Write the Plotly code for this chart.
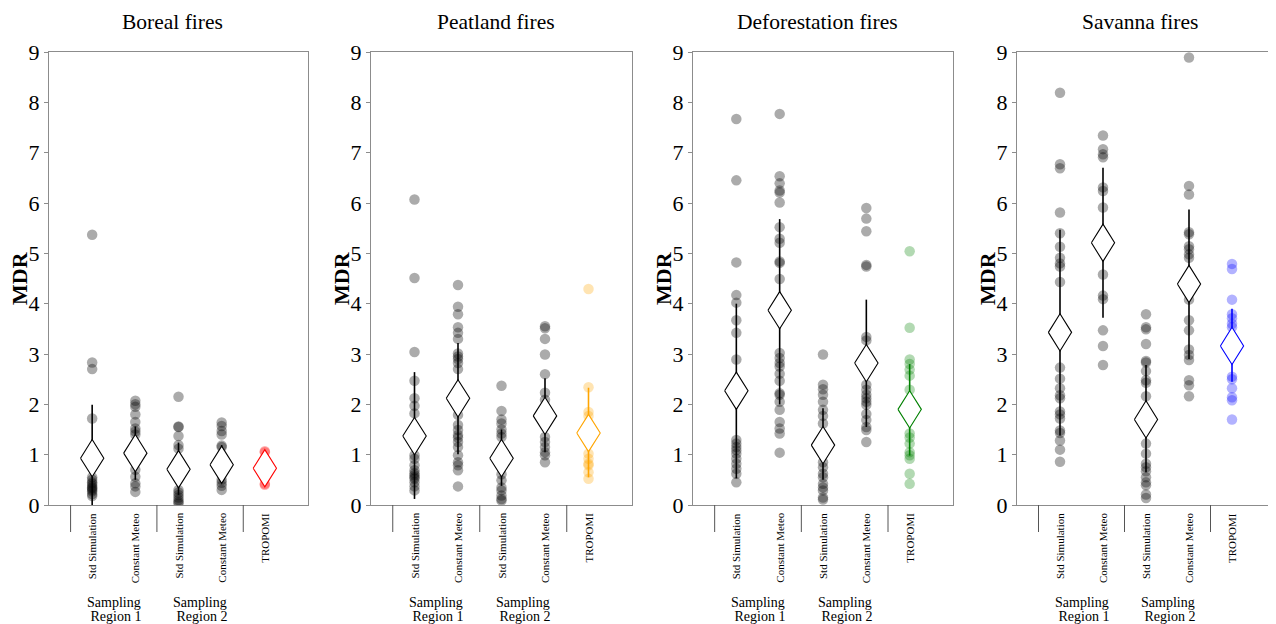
import plotly.graph_objects as go

# ---------------- data ----------------
panel_titles = ["Boreal fires", "Peatland fires", "Deforestation fires", "Savanna fires"]
categories = ["Std Simulation", "Constant Meteo", "Std Simulation", "Constant Meteo", "TROPOMI"]
group_labels = ["Region 1", "Region 2"]
group_top = "Sampling"

tropomi_point_colors = ["rgba(255,0,0,0.3)", "rgba(255,165,0,0.3)", "rgba(0,128,0,0.3)", "rgba(0,0,255,0.3)"]
tropomi_line_colors = ["rgb(255,0,0)", "rgb(255,165,0)", "rgb(0,128,0)", "rgb(0,0,255)"]

# Boreal
boreal_std_r1 = [5.37, 2.83, 2.70, 1.72, 0.55, 0.50, 0.45, 0.42, 0.38, 0.35, 0.33, 0.30, 0.27, 0.22, 0.18]
boreal_const_r1 = [2.07, 2.00, 1.95, 1.80, 1.65, 1.52, 1.46, 1.40, 0.70, 0.56, 0.43, 0.37, 0.26]
boreal_std_r2 = [2.15, 1.56, 1.55, 1.37, 1.19, 1.12, 0.30, 0.25, 0.20, 0.15, 0.10, 0.06, 0.03]
boreal_const_r2 = [1.64, 1.57, 1.47, 1.40, 1.18, 1.15, 0.50, 0.44, 0.38, 0.30]
boreal_tropomi = [1.07, 1.05, 0.42, 0.40]
boreal_mean = [0.93, 1.03, 0.71, 0.80, 0.73]
boreal_lo = [0.00, 0.50, 0.20, 0.50, 0.45]
boreal_hi = [1.99, 1.56, 1.24, 1.19, 1.02]

# Peatland
peat_std_r1 = [6.07, 4.51, 3.04, 2.47, 2.12, 1.97, 1.82, 0.99, 0.92, 0.79, 0.69, 0.63, 0.59, 0.55, 0.52, 0.45, 0.37, 0.29]
peat_const_r1 = [4.37, 3.94, 3.79, 3.53, 3.42, 3.30, 3.01, 2.95, 2.90, 2.82, 2.70, 1.79, 1.59, 1.49, 1.39, 1.34,
                 1.25, 1.15, 0.99, 0.85, 0.79, 0.69, 0.37]
peat_std_r2 = [2.37, 1.87, 1.70, 1.62, 1.50, 1.42, 1.35, 0.61, 0.49, 0.35, 0.29, 0.19, 0.12, 0.09]
peat_const_r2 = [3.55, 3.51, 3.30, 2.99, 2.60, 2.23, 2.09, 1.35, 1.25, 1.15, 1.05, 0.99, 0.85]
peat_tropomi = [4.29, 2.34, 1.85, 1.77, 1.02, 0.92, 0.82, 0.79, 0.65, 0.52]
peat_mean = [1.37, 2.12, 0.93, 1.77, 1.43]
peat_lo = [0.12, 1.01, 0.38, 1.05, 0.55]
peat_hi = [2.64, 3.22, 1.50, 2.52, 2.33]

# Deforestation
defo_std_r1 = [7.67, 6.45, 4.82, 4.17, 4.02, 3.67, 3.42, 2.89, 1.29, 1.22, 1.15, 1.09, 1.02, 0.92, 0.82, 0.72, 0.62, 0.45]
defo_const_r1 = [7.77, 6.53, 6.39, 6.25, 6.21, 6.01, 5.52, 5.29, 5.21, 4.84, 4.81, 4.49, 3.02, 2.92, 2.82, 2.75,
                 2.61, 2.47, 2.22, 2.19, 2.05, 1.89, 1.65, 1.52, 1.42, 1.04]
defo_std_r2 = [2.99, 2.39, 2.30, 2.19, 2.05, 1.89, 1.77, 1.62, 0.85, 0.75, 0.62, 0.55, 0.42, 0.35, 0.29, 0.15, 0.11]
defo_const_r2 = [5.90, 5.69, 5.44, 4.77, 4.74, 3.34, 3.27, 2.39, 2.29, 2.19, 2.12, 2.05, 1.99, 1.81, 1.69, 1.55,
                 1.49, 1.25]
defo_tropomi = [5.04, 3.52, 2.89, 2.80, 2.69, 2.57, 2.29, 1.42, 1.34, 1.22, 1.05, 0.99, 0.92, 0.62, 0.42]
defo_mean = [2.27, 3.87, 1.19, 2.82, 1.90]
defo_lo = [0.53, 2.00, 0.50, 1.55, 0.98]
defo_hi = [4.00, 5.68, 1.92, 4.08, 2.80]

# Savanna
sav_std_r1 = [8.19, 6.77, 6.69, 5.81, 5.40, 5.13, 4.91, 4.80, 4.74, 4.43, 2.73, 2.51, 2.32, 2.18, 2.12, 1.86,
              1.80, 1.72, 1.48, 1.43, 1.28, 1.10, 0.86]
sav_const_r1 = [7.34, 7.07, 6.97, 6.91, 6.31, 6.24, 5.91, 4.58, 4.16, 4.09, 3.47, 3.16, 2.78]
sav_std_r2 = [3.79, 3.53, 3.49, 3.20, 2.86, 2.83, 2.66, 2.48, 2.43, 2.16, 1.22, 1.02, 0.82, 0.75, 0.67, 0.55,
              0.45, 0.39, 0.21, 0.14]
sav_const_r2 = [8.89, 6.34, 6.17, 5.42, 5.38, 5.14, 5.08, 4.98, 4.91, 4.08, 3.67, 3.47, 3.09, 2.98, 2.88, 2.48,
                2.38, 2.16]
sav_tropomi = [4.79, 4.69, 4.08, 3.79, 3.71, 3.60, 3.53, 2.55, 2.50, 2.32, 2.14, 2.08, 1.70]
sav_mean = [3.43, 5.21, 1.70, 4.39, 3.16]
sav_lo = [1.38, 3.72, 0.65, 2.90, 2.45]
sav_hi = [5.47, 6.70, 2.78, 5.87, 3.90]

y_ticks = [0, 1, 2, 3, 4, 5, 6, 7, 8, 9]

panels = [
    ([boreal_std_r1, boreal_const_r1, boreal_std_r2, boreal_const_r2, boreal_tropomi], boreal_mean, boreal_lo, boreal_hi),
    ([peat_std_r1, peat_const_r1, peat_std_r2, peat_const_r2, peat_tropomi], peat_mean, peat_lo, peat_hi),
    ([defo_std_r1, defo_const_r1, defo_std_r2, defo_const_r2, defo_tropomi], defo_mean, defo_lo, defo_hi),
    ([sav_std_r1, sav_const_r1, sav_std_r2, sav_const_r2, sav_tropomi], sav_mean, sav_lo, sav_hi),
]

# ---------------- layout / style ----------------
W, H = 1276, 624
OFF = 8  # page body margin offset of the figure inside the window
FONT = "Liberation Serif, Times New Roman, serif"
panel_px = [(49, 308), (371, 632), (693, 953), (1017, 1275)]   # window pixels
y_px = (505, 52)                                               # window pixels (bottom, top)


def fx(px):
    return (px - OFF) / W


def fy(py):
    return (H - (py - OFF)) / H


ydom = [fy(y_px[0]), fy(y_px[1])]
AXIS_COLOR = "#8c8c8c"
GRAY_PT = "rgba(0,0,0,0.33)"
DW, DH = 0.27, 0.37   # diamond half width (category units) / half height (data units)

fig = go.Figure()
annotations = []
shapes = []

for k, (series, means, los, his) in enumerate(panels):
    xa = "x" if k == 0 else f"x{k+1}"
    ya = "y" if k == 0 else f"y{k+1}"
    tcol_pt = tropomi_point_colors[k]
    tcol_ln = tropomi_line_colors[k]
    # points
    for i, vals in enumerate(series):
        col = tcol_pt if i == 4 else GRAY_PT
        fig.add_trace(go.Scatter(
            x=[i + 1] * len(vals), y=vals, mode="markers", xaxis=xa, yaxis=ya,
            marker=dict(size=10.5, color=col, line=dict(width=0)),
            showlegend=False, hoverinfo="y"))
    # error lines
    for i in range(5):
        col = tcol_ln if i == 4 else "black"
        fig.add_trace(go.Scatter(
            x=[i + 1, i + 1], y=[los[i], his[i]], mode="lines", xaxis=xa, yaxis=ya,
            line=dict(color=col, width=1.6), showlegend=False, hoverinfo="skip"))
    # diamonds (means)
    for i, m in enumerate(means):
        col = tcol_ln if i == 4 else "black"
        xi = i + 1
        fig.add_trace(go.Scatter(
            x=[xi - DW, xi, xi + DW, xi, xi - DW], y=[m, m + DH, m, m - DH, m],
            mode="lines", fill="toself", fillcolor="white", xaxis=xa, yaxis=ya,
            line=dict(color=col, width=1.1), showlegend=False, hoverinfo="skip"))

    x0, x1 = panel_px[k]
    fig.layout[("xaxis" if k == 0 else f"xaxis{k+1}")] = dict(
        domain=[fx(x0), fx(x1)], range=[0, 6], anchor=ya, showticklabels=False, ticks="",
        automargin=False,
        showgrid=False, zeroline=False, showline=True, mirror=True, linecolor=AXIS_COLOR, linewidth=1)
    fig.layout[("yaxis" if k == 0 else f"yaxis{k+1}")] = dict(
        domain=ydom, range=[0, 9], anchor=xa, tickvals=y_ticks, ticks="outside", ticklen=4,
        automargin=False,
        tickcolor=AXIS_COLOR, showgrid=False, zeroline=False, showline=True, mirror=True,
        linecolor=AXIS_COLOR, linewidth=1, tickfont=dict(family=FONT, size=22, color="black"))

    xdom = f"{xa} domain"
    # panel title
    annotations.append(dict(text=panel_titles[k], xref=xdom, x=0.5, xshift=-6, yref="paper", y=fy(22),
                            xanchor="center", yanchor="middle", showarrow=False,
                            font=dict(family=FONT, size=21.5, color="black")))
    # y axis label
    annotations.append(dict(text="<b>MDR</b>", xref=xdom, x=0, xshift=-29.5, yref="paper",
                            y=(ydom[0] + ydom[1]) / 2, textangle=-90, xanchor="center", yanchor="middle",
                            showarrow=False, font=dict(family=FONT, size=22, color="black")))
    # category labels
    for i, c in enumerate(categories):
        annotations.append(dict(text=c, xref=xa, x=i + 1, yref="paper", y=fy(511),
                                textangle=-90, xanchor="center", yanchor="top", showarrow=False,
                                font=dict(family=FONT, size=11, color="black")))
    # group labels
    for g, lab in enumerate(group_labels):
        gx = 1.5 + 2 * g
        annotations.append(dict(text=group_top, xref=xa, x=gx, yref="paper", y=fy(602),
                                xanchor="center", yanchor="middle", showarrow=False,
                                font=dict(family=FONT, size=14, color="black")))
        annotations.append(dict(text="\u00a0" + lab, xref=xa, x=gx, yref="paper", y=fy(616),
                                xanchor="center", yanchor="middle", showarrow=False,
                                font=dict(family=FONT, size=14, color="black")))
    # group separators
    for sx in [0.5, 2.5, 4.5]:
        shapes.append(dict(type="line", xref=xa, x0=sx, x1=sx, yref="paper",
                           y0=fy(505), y1=fy(532), line=dict(color="#555555", width=1)))

fig.update_layout(
    width=W, height=H, margin=dict(l=0, r=0, t=0, b=0, autoexpand=False),
    paper_bgcolor="white", plot_bgcolor="white",
    annotations=annotations, shapes=shapes,
    font=dict(family=FONT, color="black"),
)

fig.write_html("out.html")
